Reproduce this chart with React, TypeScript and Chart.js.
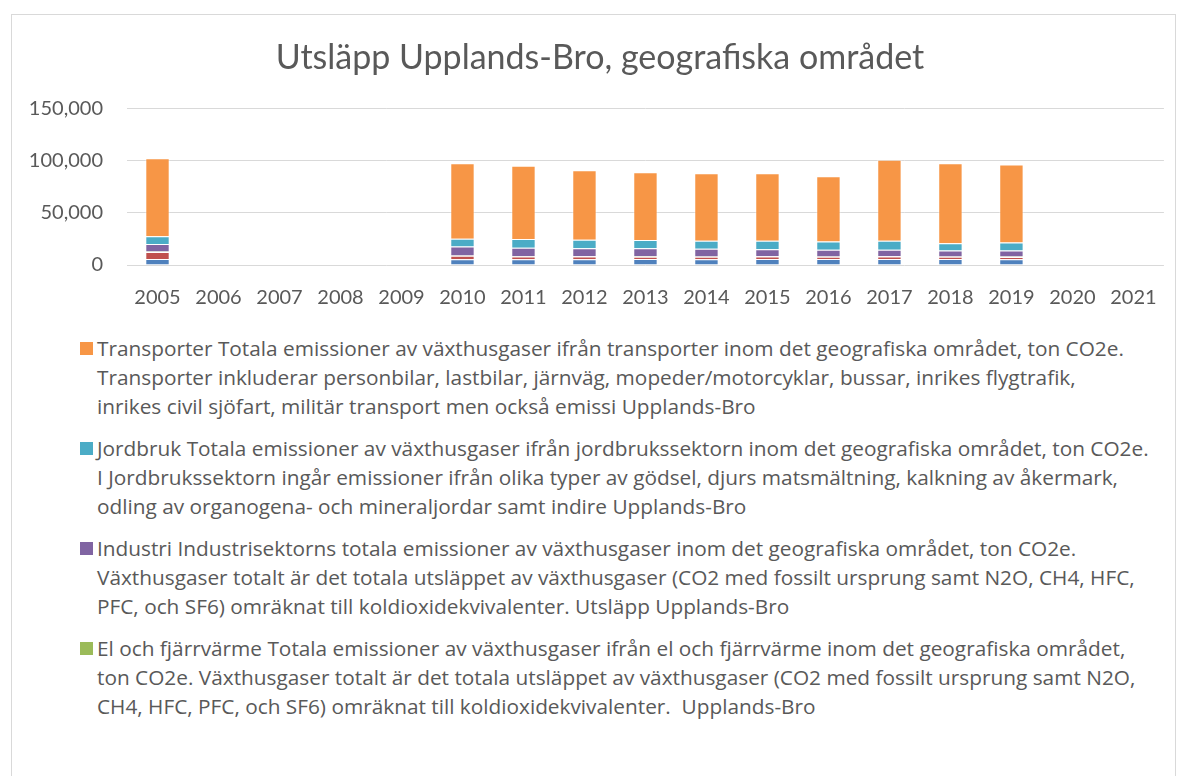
import React, { useEffect, useRef } from 'react';
import { Chart, registerables } from 'chart.js';

Chart.register(...registerables);

const titleText = 'Utsläpp Upplands-Bro, geografiska området';

const years = ['2005', '2006', '2007', '2008', '2009', '2010', '2011', '2012', '2013', '2014', '2015', '2016', '2017', '2018', '2019', '2020', '2021'];

// bottom to top of the stack
const egenUppvarmning = [5800, null, null, null, null, 5500, 5600, 5600, 5700, 5600, 5800, 5700, 5800, 5700, 5600, null, null];
const arbetsmaskiner = [6800, null, null, null, null, 3400, 2600, 2500, 2300, 2300, 2300, 2200, 2300, 2200, 2200, null, null];
const elFjarrvarme = [400, null, null, null, null, 300, 300, 300, 300, 300, 300, 300, 300, 300, 300, null, null];
const industri = [7100, null, null, null, null, 8600, 8100, 7800, 7900, 7500, 6800, 6400, 6200, 5700, 5800, null, null];
const jordbruk = [7400, null, null, null, null, 7400, 8400, 8100, 7800, 7600, 8100, 8000, 8700, 7100, 7800, null, null];
const transporter = [75100, null, null, null, null, 72600, 70400, 66700, 65000, 64700, 64700, 62600, 77700, 76800, 74700, null, null];

const yTicks = [0, 50000, 100000, 150000];

const transporterLabel = [
  'Transporter Totala emissioner av växthusgaser ifrån transporter inom det geografiska området, ton CO2e.',
  'Transporter inkluderar personbilar, lastbilar, järnväg, mopeder/motorcyklar, bussar, inrikes flygtrafik,',
  'inrikes civil sjöfart, militär transport men också emissi Upplands-Bro',
];
const jordbrukLabel = [
  'Jordbruk Totala emissioner av växthusgaser ifrån jordbrukssektorn inom det geografiska området, ton CO2e.',
  'I Jordbrukssektorn ingår emissioner ifrån olika typer av gödsel, djurs matsmältning, kalkning av åkermark,',
  'odling av organogena- och mineraljordar samt indire Upplands-Bro',
];
const industriLabel = [
  'Industri Industrisektorns totala emissioner av växthusgaser inom det geografiska området, ton CO2e.',
  'Växthusgaser totalt är det totala utsläppet av växthusgaser (CO2 med fossilt ursprung samt N2O, CH4, HFC,',
  'PFC, och SF6) omräknat till koldioxidekvivalenter. Utsläpp Upplands-Bro',
];
const elLabel = [
  'El och fjärrvärme Totala emissioner av växthusgaser ifrån el och fjärrvärme inom det geografiska området,',
  'ton CO2e. Växthusgaser totalt är det totala utsläppet av växthusgaser (CO2 med fossilt ursprung samt N2O,',
  'CH4, HFC, PFC, och SF6) omräknat till koldioxidekvivalenter.  Upplands-Bro',
];
const arbetsmaskinerLabel = ['Arbetsmaskiner Upplands-Bro'];
const egenUppvarmningLabel = ['Egen uppvärmning Upplands-Bro'];

const FONT = 'Lato, "Noto Sans", sans-serif';
const LEGEND_FONT = '"Open Sans", "Noto Sans", sans-serif';
const TEXT = '#595959';

const series = [
  { label: egenUppvarmningLabel, data: egenUppvarmning, color: '#4F81BD', legend: false },
  { label: arbetsmaskinerLabel, data: arbetsmaskiner, color: '#C0504D', legend: false },
  { label: elLabel, data: elFjarrvarme, color: '#9BBB59', legend: true },
  { label: industriLabel, data: industri, color: '#8064A2', legend: true },
  { label: jordbrukLabel, data: jordbruk, color: '#4BACC6', legend: true },
  { label: transporterLabel, data: transporter, color: '#F79646', legend: true },
];

const centerTitle = {
  id: 'centerTitle',
  afterLayout(chart: any) {
    const tb = chart.titleBlock;
    if (tb) {
      tb.left = 35;
      tb.right = 1165;
      tb.width = tb.right - tb.left;
    }
  },
};

export default function App() {
  const canvasRef = useRef<HTMLCanvasElement | null>(null);

  useEffect(() => {
    const canvas = canvasRef.current;
    if (!canvas) return;
    const chart = new Chart(canvas, {
      type: 'bar',
      data: {
        labels: years,
        datasets: series.map((s) => ({
          label: s.label.join(' '),
          data: s.data,
          backgroundColor: s.color,
          borderColor: 'rgba(255,255,255,0.45)',
          borderWidth: 1,
          categoryPercentage: 1,
          barPercentage: 0.4,
        })),
      },
      plugins: [centerTitle],
      options: {
        animation: false,
        responsive: false,
        maintainAspectRatio: false,
        layout: { padding: { left: 12, right: 13, top: 0, bottom: 13 } },
        plugins: {
          legend: { display: false },
          tooltip: { enabled: false },
          title: {
            display: true,
            text: titleText,
            color: TEXT,
            font: { family: FONT, size: 34, weight: 'normal' },
            padding: { top: 38, bottom: 30 },
          },
        },
        scales: {
          x: {
            stacked: true,
            grid: { display: false, drawTicks: false },
            border: { display: false },
            ticks: { color: TEXT, font: { family: FONT, size: 20 }, padding: 21, maxRotation: 0, autoSkip: false },
            afterFit: (scale: any) => { scale.height = 42; },
          },
          y: {
            stacked: true,
            min: 0,
            max: 150000,
            afterBuildTicks: (scale: any) => { scale.ticks = yTicks.map((v) => ({ value: v })); },
            grid: { color: '#d9d9d9', lineWidth: 1, drawTicks: false },
            border: { display: false },
            ticks: {
              color: TEXT,
              font: { family: FONT, size: 20 },
              padding: 24,
              callback: (v: any) => Number(v).toLocaleString('en-US'),
            },
            afterFit: (scale: any) => { scale.width = 115; },
          },
        },
      },
    });
    return () => chart.destroy();
  }, []);

  const legendItems = series.filter((s) => s.legend).slice().reverse();

  return (
    <div style={{ position: 'absolute', left: 0, top: 0, width: 1178, height: 776, background: '#fff', overflow: 'hidden' }}>
      <div style={{ position: 'absolute', left: 11, top: 14, width: 1163, height: 800, border: '1px solid #d9d9d9' }} />
      <canvas ref={canvasRef} width={1178} height={320} style={{ position: 'absolute', left: 0, top: 0, width: 1178, height: 320 }} />
      <div style={{ position: 'absolute', left: 80, top: 334, fontFamily: LEGEND_FONT, fontSize: 20.8, color: TEXT }}>
        {legendItems.map((s, i) => (
          <div key={i} style={{ position: 'relative', marginBottom: 13 }}>
            <span style={{ position: 'absolute', left: 0, top: 8, width: 13, height: 13, background: s.color }} />
            <div style={{ marginLeft: 17 }}>
              {s.label.map((line, j) => (
                <div key={j} style={{ whiteSpace: 'pre', lineHeight: '29px' }}>{line}</div>
              ))}
            </div>
          </div>
        ))}
      </div>
    </div>
  );
}
